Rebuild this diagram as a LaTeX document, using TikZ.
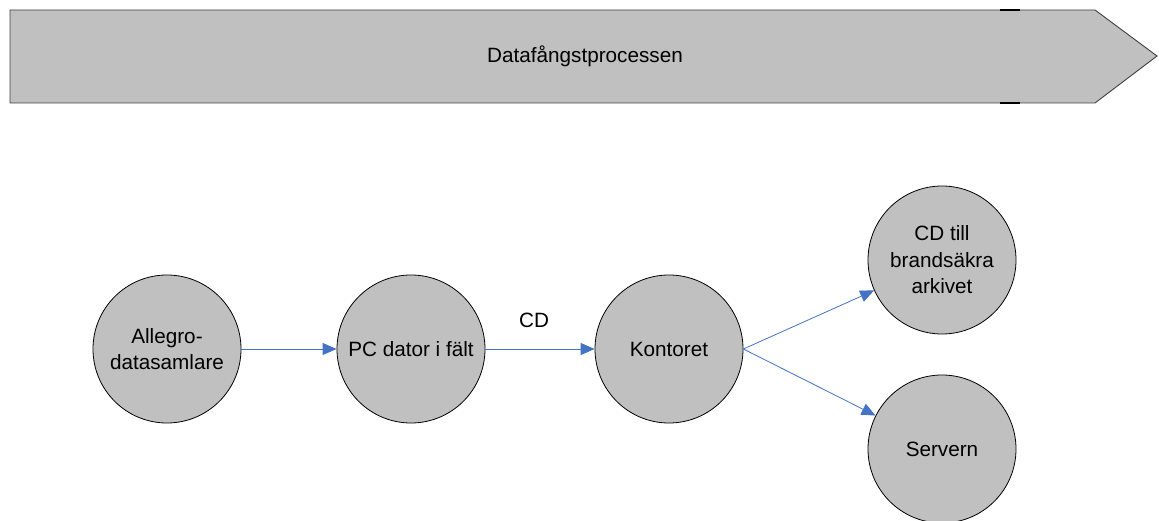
\documentclass[tikz,border=0pt]{standalone}
\usepackage{fontspec}
\setmainfont{Liberation Sans}
\usetikzlibrary{arrows.meta}
\definecolor{fillgray}{HTML}{C0C0C0}
\definecolor{linkblue}{HTML}{4472C4}
\begin{document}
\begin{tikzpicture}[x=1pt,y=-1pt,
  every node/.style={font=\fontsize{20.7}{26.5}\selectfont},
  stage/.style={circle,draw=black,line width=0.8pt,fill=fillgray,minimum size=148pt,inner sep=0pt,align=center},
  link/.style={draw=linkblue,line width=0.8pt,-{Triangle[length=14pt,width=12pt]}}]
\useasboundingbox (0,0) rectangle (1159,521);
% process banner
\draw[fill=fillgray,draw=black!75,line width=0.9pt] (10,10) -- (1095,10) -- (1157,56) -- (1095,103) -- (10,103) -- cycle;
\draw[line width=2.2pt] (1000,10) -- (1020,10);
\draw[line width=2.2pt] (1000,103) -- (1020,103);
\node (banner) at (585,56) {Datafångstprocessen};
% stages
\node[stage] (allegro) at (167,349) {Allegro-\\datasamlare};
\node[stage] (pc) at (411,349) {PC dator i fält};
\node[stage] (kontor) at (669,349) {Kontoret};
\node[stage] (cd) at (942,260) {CD till\\brandsäkra\\arkivet};
\node[stage] (server) at (942,449) {Servern};
% connectors
\draw[link] (allegro) -- (pc);
\draw[link] (pc) -- (kontor);
\node (cdlabel) at (534,320) {CD};
\draw[link] (kontor.east) -- (cd);
\draw[link] (kontor.east) -- (server);
\end{tikzpicture}
\end{document}
